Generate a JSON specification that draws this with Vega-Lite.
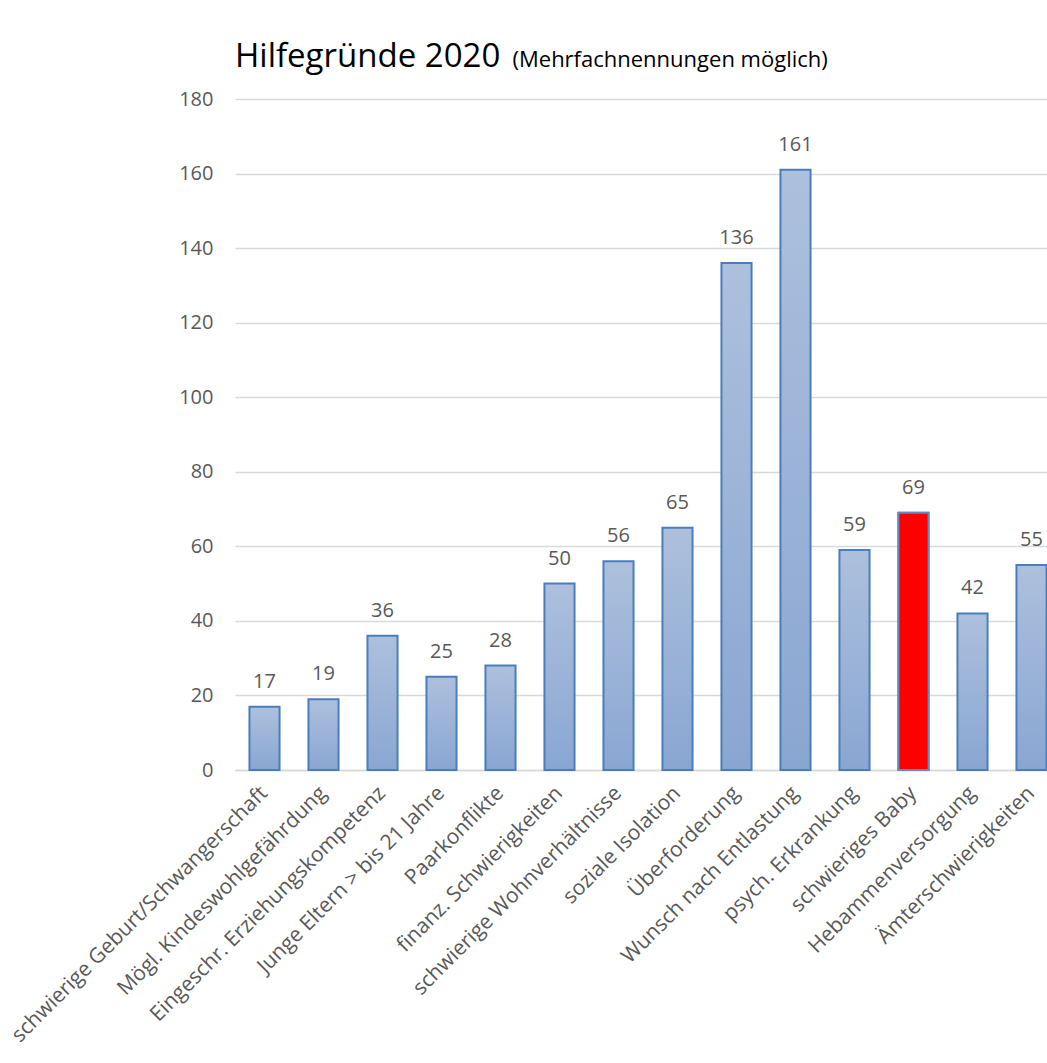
{
  "$schema": "https://vega.github.io/schema/vega-lite/v6.json",
  "width": 812,
  "height": 671,
  "autosize": {"type": "none"},
  "padding": {"left": 235, "top": 99, "right": 0, "bottom": 293},
  "background": "white",
  "title": {
    "text": "Hilfegründe 2020",
    "anchor": "start",
    "frame": "group",
    "font": "Open Sans",
    "fontSize": 33,
    "fontWeight": "normal",
    "color": "#000000",
    "baseline": "alphabetic",
    "offset": 20,
    "dy": 72
  },
  "config": {
    "view": {"stroke": null},
    "font": "Open Sans"
  },
  "data": {
    "values": [
      {"grund": "schwierige Geburt/Schwangerschaft", "anzahl": 17},
      {"grund": "Mögl. Kindeswohlgefährdung", "anzahl": 19},
      {"grund": "Eingeschr. Erziehungskompetenz", "anzahl": 36},
      {"grund": "Junge Eltern > bis 21 Jahre", "anzahl": 25},
      {"grund": "Paarkonflikte", "anzahl": 28},
      {"grund": "finanz. Schwierigkeiten", "anzahl": 50},
      {"grund": "schwierige Wohnverhältnisse", "anzahl": 56},
      {"grund": "soziale Isolation", "anzahl": 65},
      {"grund": "Überforderung", "anzahl": 136},
      {"grund": "Wunsch nach Entlastung", "anzahl": 161},
      {"grund": "psych. Erkrankung", "anzahl": 59},
      {"grund": "schwieriges Baby", "anzahl": 69},
      {"grund": "Hebammenversorgung", "anzahl": 42},
      {"grund": "Ämterschwierigkeiten", "anzahl": 55}
    ]
  },
  "encoding": {
    "x": {
      "field": "grund",
      "type": "nominal",
      "sort": null,
      "scale": {"range": [0, 826], "paddingInner": 0.49, "paddingOuter": 0.245},
      "axis": {
        "title": null,
        "labelAngle": -45,
        "labelFontSize": 21,
        "labelColor": "#595959",
        "labelPadding": 12,
        "labelOffset": -8,
        "labelLimit": 600,
        "ticks": false,
        "domainColor": "#d9d9d9",
        "domainWidth": 1.5,
        "grid": false
      }
    },
    "y": {
      "field": "anzahl",
      "type": "quantitative",
      "scale": {"domain": [0, 180], "nice": false},
      "axis": {
        "values": [0, 20, 40, 60, 80, 100, 120, 140, 160, 180],
        "title": "(Mehrfachnennungen möglich)",
        "titleAngle": 0,
        "titleX": 277,
        "titleY": -33,
        "titleAlign": "left",
        "titleBaseline": "alphabetic",
        "titleFont": "Open Sans",
        "titleFontSize": 22,
        "titleFontWeight": "normal",
        "titleColor": "#000000",
        "labelFontSize": 20,
        "labelColor": "#595959",
        "labelPadding": 22,
        "ticks": false,
        "domain": false,
        "gridColor": "#d9d9d9",
        "gridWidth": 1.5
      }
    }
  },
  "layer": [
    {
      "mark": {
        "type": "bar",
        "stroke": "#4a7ebb",
        "strokeWidth": 2,
        "fill": {
          "gradient": "linear",
          "x1": 0, "y1": 0, "x2": 0, "y2": 1,
          "stops": [
            {"offset": 0, "color": "#adc0dd"},
            {"offset": 1, "color": "#89a6d2"}
          ]
        }
      }
    },
    {
      "transform": [{"filter": "datum.grund === 'schwieriges Baby'"}],
      "mark": {"type": "bar", "fill": "#ff0000", "stroke": "#5b8ac4", "strokeWidth": 2}
    },
    {
      "mark": {
        "type": "text",
        "baseline": "alphabetic",
        "dy": -19,
        "fontSize": 20,
        "color": "#595959"
      },
      "encoding": {"text": {"field": "anzahl", "type": "quantitative"}}
    }
  ]
}
